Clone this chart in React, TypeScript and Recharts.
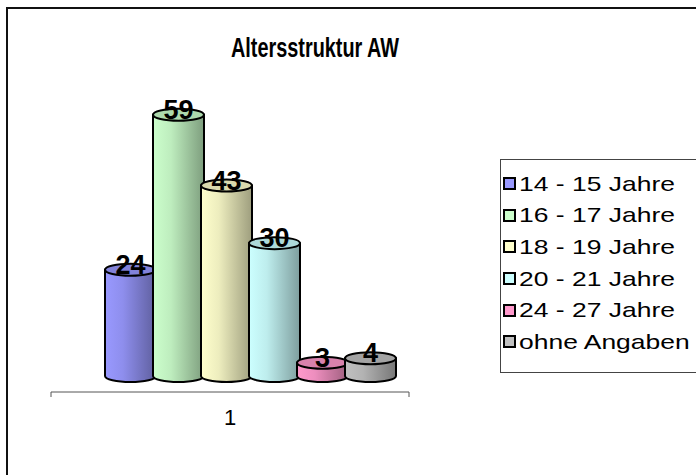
import { BarChart, Bar, XAxis, YAxis, Legend, LabelList } from 'recharts'

const categories = ['1']
const seriesNames = ['14 - 15 Jahre', '16 - 17 Jahre', '18 - 19 Jahre', '20 - 21 Jahre', '24 - 27 Jahre', 'ohne Angaben']
const seriesValues = [24, 59, 43, 30, 3, 4]
const seriesColors = ['#9999ff', '#ccffcc', '#ffffcc', '#ccffff', '#ff99cc', '#c0c0c0']

const keys = seriesNames.map((_, i) => `s${i}`)
const data = categories.map((name) => {
  const row: Record<string, string | number> = { name }
  keys.forEach((k, i) => (row[k] = seriesValues[i]))
  return row
})

const FONT = '"Liberation Sans", Arial, sans-serif'
// oblique 3D depth offset
const DX = 20
const DY = -16
const RY = 6

function shade(hex: string, f: number) {
  const n = parseInt(hex.slice(1), 16)
  const c = [(n >> 16) & 255, (n >> 8) & 255, n & 255].map((v) => Math.round(v * f))
  return `rgb(${c[0]},${c[1]},${c[2]})`
}

function Cylinder(props: any) {
  const { x, y, width, height, index } = props
  const i = props.seriesIndex as number
  if (width == null || height == null) return null
  const left = x + DX
  const right = x + DX + width
  const rx = width / 2
  const top = y + DY
  const base = y + height + DY
  const body = `M${left},${top} L${left},${base} A${rx},${RY} 0 0 0 ${right},${base} L${right},${top} Z`
  return (
    <g key={index}>
      <path d={body} fill={`url(#cyl${i})`} stroke="#000" strokeWidth={2} />
      <ellipse cx={left + rx} cy={top} rx={rx} ry={RY} fill={shade(seriesColors[i], 0.85)} stroke="#000" strokeWidth={2} />
    </g>
  )
}

function ValueLabel(props: any) {
  const { x, y, width, value } = props
  return (
    <text x={x + width / 2 + DX} y={y + DY + 4} textAnchor="middle" fontFamily={FONT} fontWeight="bold" fontSize={27} fill="#000">
      {value}
    </text>
  )
}

function CategoryTick(props: any) {
  const { x, y, payload } = props
  const half = 179
  return (
    <g>
      <line x1={x - half} y1={y - 8} x2={x - half} y2={y - 3} stroke="#555" />
      <line x1={x + half} y1={y - 8} x2={x + half} y2={y - 3} stroke="#555" />
      <text x={x} y={y + 25} textAnchor="middle" fontFamily={FONT} fontSize={22} fill="#000">
        {payload.value}
      </text>
    </g>
  )
}

function LegendBox() {
  return (
    <div style={{ border: '1px solid #444', padding: '8px 0 14px 2px', width: 210, fontFamily: FONT, fontSize: 21, background: '#fff' }}>
      {seriesNames.map((n, i) => (
        <div key={n} style={{ display: 'flex', alignItems: 'center', height: 31.6, whiteSpace: 'nowrap' }}>
          <span style={{ display: 'inline-block', width: 9, height: 9, border: '2px solid #000', background: seriesColors[i], marginRight: 3, flexShrink: 0 }} />
          <span style={{ display: 'inline-block', transform: 'scaleX(1.26)', transformOrigin: 'left center' }}>{n}</span>
        </div>
      ))}
    </div>
  )
}

export default function App() {
  return (
    <div style={{ position: 'absolute', left: 0, top: 0, width: 696, height: 475, overflow: 'hidden', background: '#fff' }}>
      <div style={{ position: 'absolute', left: 6, top: 7, width: 740, height: 520, border: '2px solid #111', boxSizing: 'border-box' }} />
      <svg style={{ position: 'absolute', left: 0, top: 0 }} width={696} height={80}>
        <text x={315} y={57} textAnchor="middle" fontFamily={FONT} fontWeight="bold" fontSize={28} textLength={168} lengthAdjust="spacingAndGlyphs">
          Altersstruktur AW
        </text>
      </svg>
      <div style={{ position: 'absolute', left: 0, top: 0 }}>
        <BarChart width={696} height={475} data={data} margin={{ top: 82, right: 287, left: 51, bottom: 53 }} barSize={51} barGap={-3}>
          <defs>
            {seriesColors.map((c, i) => (
              <linearGradient key={i} id={`cyl${i}`} x1="0" y1="0" x2="1" y2="0">
                <stop offset="0" stopColor={shade(c, 1.0)} />
                <stop offset="0.35" stopColor={shade(c, 0.93)} />
                <stop offset="1" stopColor={shade(c, 0.62)} />
              </linearGradient>
            ))}
          </defs>
          <XAxis dataKey="name" height={30} axisLine={{ stroke: '#555' }} tickLine={false} tick={<CategoryTick />} />
          <YAxis hide domain={[0, 70]} />
          <Legend
            layout="horizontal"
            verticalAlign="middle"
            align="center"
            content={() => <LegendBox />}
            wrapperStyle={{ position: 'absolute', left: 500, top: 159, width: 210 }}
          />
          {keys.map((k, i) => (
            <Bar key={k} dataKey={k} name={seriesNames[i]} fill={seriesColors[i]} isAnimationActive={false} shape={(p: any) => <Cylinder {...p} seriesIndex={i} />}>
              <LabelList dataKey={k} content={<ValueLabel />} />
            </Bar>
          ))}
        </BarChart>
      </div>
    </div>
  )
}
